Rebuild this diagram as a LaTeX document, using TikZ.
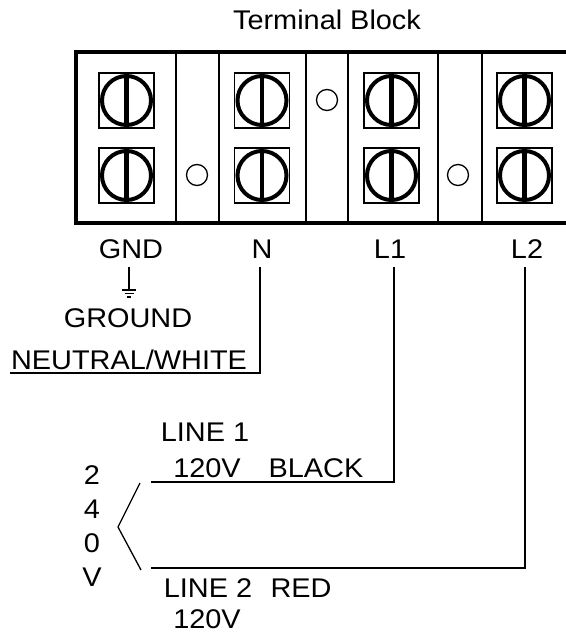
\documentclass[tikz,border=0pt]{standalone}
\usepackage{fontspec}
\setmainfont{Liberation Sans}[FakeStretch=1.07]

\begin{document}
\begin{tikzpicture}[x=1pt,y=-1pt,
  wire/.style={line width=1.3pt},
  divider/.style={line width=1.3pt},
  lbl/.style={font=\fontsize{27}{34}\selectfont,inner sep=0pt,anchor=base},
  stack/.style={font=\fontsize{27}{34}\selectfont,inner sep=0pt,align=center}]
  \useasboundingbox (0,0) rectangle (565,634);

  % block outline, open to the right
  \draw[line width=4pt] (567,52) -- (76,52) -- (76,223) -- (567,223);
  \foreach \x in {176,219,306,348,438,482}
    \draw[divider] (\x,52) -- (\x,223);

  % screws
  \foreach \x in {126.5,262,391.5,524.5}
    \foreach \y in {100.5,175.5} {
      \draw[line width=1.3pt] (\x-27.5,\y-27.5) rectangle (\x+27.5,\y+27.5);
      \draw[line width=4pt] (\x,\y) circle (24.5);
      \draw[line width=4.5pt] (\x,\y-24.5) -- (\x,\y+24.5);
    }

  % holes
  \draw[line width=1.3pt] (197,175) circle (10.5);
  \draw[line width=1.3pt] (327,100) circle (10.5);
  \draw[line width=1.3pt] (458,175) circle (10.5);

  \node[lbl] (title) at (327,30) {Terminal Block};
  \node[lbl] (gnd) at (131,258) {GND};
  \node[lbl] (n) at (262,258) {N};
  \node[lbl] (l1) at (390,258) {L1};
  \node[lbl] (l2) at (527,258) {L2};

  % ground
  \coordinate (gtop) at (129,267);
  \coordinate (gbot) at (129,290);
  \draw[wire] (gtop) -- (gbot);
  \draw[wire] ([xshift=-7pt]gbot) -- ([xshift=7pt]gbot);
  \draw[wire] ([xshift=-4.5pt,yshift=-3.5pt]gbot) -- ([xshift=4.5pt,yshift=-3.5pt]gbot);
  \draw[wire] ([xshift=-2pt,yshift=-7pt]gbot) -- ([xshift=2pt,yshift=-7pt]gbot);
  \node[lbl] (ground) at (128,327) {GROUND};

  % neutral
  \coordinate (ntop) at (260,267);
  \coordinate (nend) at (10,373);
  \draw[wire] (ntop) |- (nend);
  \node[lbl] (neutral) at (129,369) {NEUTRAL/WHITE};

  % line 1 and line 2
  \coordinate (l1top) at (394,267);
  \coordinate (l1end) at (151,482);
  \coordinate (l2top) at (525,267);
  \coordinate (l2end) at (151,568);
  \draw[wire] (l1top) |- (l1end);
  \draw[wire] (l2top) |- (l2end);

  \coordinate (btop) at (140,483);
  \coordinate (btip) at (118,527);
  \coordinate (bbot) at (141,570);
  \draw[wire] (btop) -- (btip) -- (bbot);

  \node[lbl] (line1) at (205,441) {LINE 1};
  \node[lbl] (v1) at (207,477) {120V};
  \node[lbl] (black) at (316,477) {BLACK};
  \node[lbl] (line2) at (208,597) {LINE 2};
  \node[lbl] (red) at (301,597) {RED};
  \node[lbl] (v2) at (207,628) {120V};
  \node[stack] (v240) at (92,526) {2\\4\\0\\V};
\end{tikzpicture}
\end{document}
